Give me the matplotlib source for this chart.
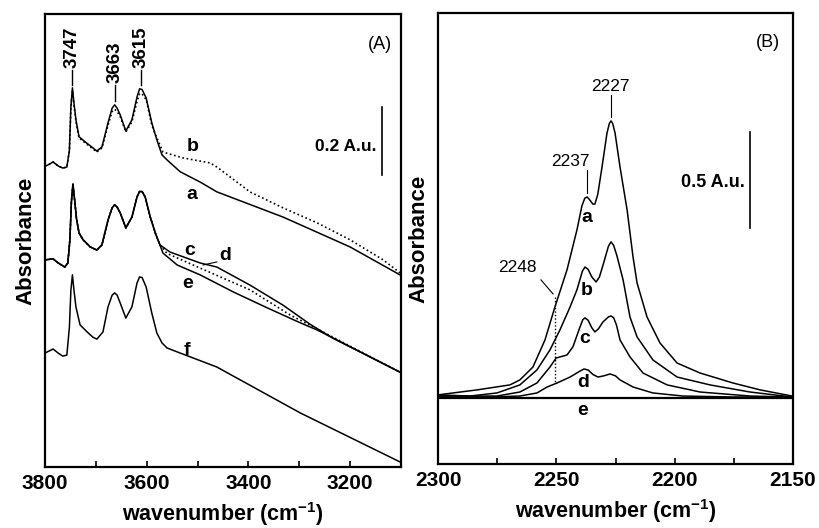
import numpy as np
import matplotlib
matplotlib.use("agg")
from matplotlib import pyplot as plt
from matplotlib.ticker import MultipleLocator

plt.rcParams['font.family'] = ['Liberation Sans', 'DejaVu Sans']
plt.rcParams['mathtext.fontset'] = 'custom'
plt.rcParams['mathtext.rm'] = 'Liberation Sans:bold'
plt.rcParams['mathtext.bf'] = 'Liberation Sans:bold'
plt.rcParams['mathtext.default'] = 'bf'

# ---- panel A: OH region (wavenumber, absorbance)
wn_a = [3800, 3794, 3784, 3774, 3765, 3757, 3752, 3749, 3746, 3743, 3739, 3733, 3721,
        3708, 3698, 3688, 3676, 3668, 3663, 3658, 3652, 3641, 3629, 3619, 3614, 3609,
        3601, 3590, 3580, 3570, 3560, 3534, 3495, 3462, 3332, 3200, 3102]
abs_a = [0.885, 0.888, 0.897, 0.885, 0.879, 0.882, 0.930, 1.060, 1.115, 1.070, 1.020,
         0.971, 0.956, 0.941, 0.929, 0.941, 1.012, 1.055, 1.065, 1.055, 1.035, 0.988,
         1.021, 1.088, 1.112, 1.110, 1.085, 1.012, 0.962, 0.918, 0.903, 0.868, 0.838,
         0.809, 0.735, 0.647, 0.565]

wn_b = [3800, 3794, 3784, 3774, 3765, 3757, 3752, 3749, 3746, 3743, 3739, 3733, 3721,
        3708, 3698, 3688, 3676, 3668, 3663, 3658, 3652, 3641, 3629, 3619, 3614, 3609,
        3601, 3590, 3584, 3568, 3529, 3475, 3462, 3436, 3397, 3332, 3265, 3200, 3135,
        3102]
abs_b = [0.885, 0.888, 0.897, 0.885, 0.879, 0.882, 0.930, 1.055, 1.108, 1.065, 1.015,
         0.968, 0.953, 0.938, 0.926, 0.938, 1.005, 1.045, 1.052, 1.045, 1.030, 0.985,
         1.015, 1.075, 1.098, 1.097, 1.080, 1.006, 0.982, 0.926, 0.909, 0.894, 0.882,
         0.853, 0.809, 0.762, 0.718, 0.668, 0.609, 0.571]

# shared OH band shape of c, d, e
wn_cde_peak = [3800, 3784, 3774, 3761, 3755, 3751, 3748, 3745, 3742, 3738, 3733, 3725,
               3711, 3698, 3688, 3676, 3668, 3663, 3658, 3652, 3641, 3629, 3619, 3614,
               3609, 3603, 3593, 3583, 3574]
abs_cde_peak = [0.609, 0.612, 0.600, 0.588, 0.600, 0.668, 0.780, 0.832, 0.790, 0.730,
                0.688, 0.668, 0.647, 0.638, 0.653, 0.726, 0.762, 0.771, 0.764, 0.747,
                0.703, 0.735, 0.794, 0.810, 0.810, 0.794, 0.735, 0.688, 0.653]
wn_c_tail = [3554, 3495, 3462, 3397, 3332, 3279, 3234, 3102]
abs_c_tail = [0.632, 0.600, 0.588, 0.535, 0.476, 0.420, 0.379, 0.279]
wn_d_tail = [3560, 3495, 3397, 3318, 3234, 3102]
abs_d_tail = [0.628, 0.585, 0.521, 0.447, 0.382, 0.279]
wn_e_tail = [3568, 3540, 3495, 3430, 3363, 3298, 3265, 3102]
abs_e_tail = [0.629, 0.594, 0.565, 0.515, 0.468, 0.424, 0.403, 0.279]

wn_f = [3800, 3784, 3774, 3765, 3757, 3752, 3749, 3746, 3743, 3739, 3731, 3717, 3706,
        3698, 3686, 3676, 3668, 3663, 3658, 3652, 3641, 3629, 3619, 3614, 3609, 3601,
        3590, 3580, 3570, 3560, 3534, 3462, 3298, 3102]
abs_f = [0.335, 0.347, 0.335, 0.326, 0.329, 0.410, 0.520, 0.565, 0.520, 0.470, 0.418,
         0.397, 0.382, 0.376, 0.397, 0.471, 0.505, 0.512, 0.505, 0.482, 0.438, 0.471,
         0.541, 0.559, 0.557, 0.529, 0.453, 0.394, 0.365, 0.350, 0.335, 0.294, 0.159,
         0.015]

oh_peaks = [3747, 3663, 3615]
oh_peak_pos = [3746, 3663, 3611]

# ---- panel B: CN region
wn_Ba = [2300, 2283.5, 2269.6, 2265.4, 2259.9, 2254.8, 2250.6, 2245.5, 2241.3, 2239.2,
         2238.0, 2237.0, 2235.8, 2234.6, 2233.7, 2232.5, 2230.7, 2228.6, 2227.6, 2226.9,
         2226.2, 2225.2, 2223.1, 2220.1, 2217.6, 2215.9, 2211.7, 2206.2, 2199.0, 2189.3,
         2175.4, 2163.9, 2150.4]
abs_Ba = [0.016, 0.042, 0.068, 0.094, 0.161, 0.302, 0.474, 0.667, 0.875, 1.000, 1.040,
          1.047, 1.030, 1.010, 1.010, 1.060, 1.203, 1.380, 1.430, 1.443, 1.430, 1.380,
          1.203, 0.979, 0.734, 0.599, 0.422, 0.286, 0.182, 0.130, 0.078, 0.042, 0.010]
wn_Bb = [2300, 2286.5, 2275.1, 2265.4, 2258.2, 2252.7, 2248.5, 2244.2, 2241.3, 2239.0,
         2237.9, 2236.6, 2235.0, 2233.2, 2231.8, 2229.9, 2228.0, 2226.9, 2225.8, 2224.4,
         2221.8, 2218.9, 2215.9, 2209.2, 2199.0, 2185.1, 2168.2, 2150.4]
abs_Bb = [0.016, 0.010, 0.026, 0.068, 0.146, 0.250, 0.354, 0.474, 0.563, 0.660, 0.682,
          0.670, 0.630, 0.604, 0.630, 0.708, 0.790, 0.813, 0.795, 0.740, 0.615, 0.422,
          0.318, 0.198, 0.109, 0.068, 0.031, 0.005]
wn_Bc = [2300, 2275.1, 2265.4, 2258.2, 2252.7, 2250.1, 2245.5, 2243.0, 2240.0, 2238.8,
         2237.9, 2236.6, 2235.0, 2233.7, 2232.2, 2230.3, 2228.0, 2226.9, 2225.8, 2224.6,
         2223.1, 2218.9, 2213.4, 2203.2, 2189.3, 2168.2, 2150.4]
abs_Bc = [0.010, 0.010, 0.031, 0.078, 0.161, 0.208, 0.224, 0.266, 0.370, 0.408, 0.417,
          0.405, 0.365, 0.344, 0.360, 0.396, 0.422, 0.427, 0.418, 0.380, 0.302, 0.214,
          0.130, 0.068, 0.031, 0.010, 0.005]
wn_Bd = [2300, 2278.0, 2265.4, 2258.2, 2253.9, 2249.7, 2244.2, 2240.0, 2238.3, 2236.5,
         2234.5, 2232.4, 2230.0, 2227.3, 2225.0, 2223.1, 2217.6, 2209.2, 2196.5, 2175.4,
         2150.4]
abs_Bd = [0.005, 0.005, 0.010, 0.026, 0.057, 0.078, 0.109, 0.140, 0.151, 0.145, 0.122,
          0.109, 0.115, 0.125, 0.115, 0.094, 0.057, 0.026, 0.010, 0.005, 0.005]
wn_Be = [2300, 2150]
abs_Be = [0.0, 0.0]


def style_axis(ax):
    for s in ax.spines.values():
        s.set_linewidth(1.6)
    ax.set_yticks([])
    ax.tick_params(axis='x', direction='in', length=4, width=1.2, top=False,
                   labelsize=15, pad=5)
    ax.tick_params(axis='x', which='minor', direction='in', length=4, width=1.2, top=False)
    for lab in ax.get_xticklabels():
        lab.set_fontweight('bold')
    ax.set_xlabel(r'wavenumber (cm$^{-1}$)', fontsize=15.5, fontweight='bold', labelpad=5.5)
    ax.set_ylabel('Absorbance', fontsize=16, fontweight='bold', labelpad=6)


fig = plt.figure(figsize=(8.19, 5.28), dpi=100)
axA = fig.add_axes([0.0549, 0.1155, 0.4347, 0.858])
axB = fig.add_axes([0.5348, 0.1212, 0.4335, 0.8542])

lw = 1.1
dot = (0, (1, 1.6))
axA.plot(wn_a, abs_a, color='black', lw=lw)
axA.plot(wn_b, abs_b, color='black', lw=1.2, ls=dot)
axA.plot(wn_cde_peak + wn_c_tail, abs_cde_peak + abs_c_tail, color='black', lw=lw)
axA.plot(wn_cde_peak + wn_d_tail, abs_cde_peak + abs_d_tail, color='black', lw=1.2, ls=dot)
axA.plot(wn_cde_peak + wn_e_tail, abs_cde_peak + abs_e_tail, color='black', lw=lw)
axA.plot(wn_f, abs_f, color='black', lw=lw)
axA.set_xlim(3800, 3100)
axA.set_ylim(0, 1.332)
axA.xaxis.set_major_locator(MultipleLocator(200))
axA.xaxis.set_minor_locator(MultipleLocator(100))
style_axis(axA)

text_bottom = [1.174, 1.129, 1.174]
for lab, pos, yb in zip(oh_peaks, oh_peak_pos, text_bottom):
    axA.text(pos, yb, str(lab), rotation=90, ha='center', va='bottom',
             fontsize=13.5, fontweight='bold')
    axA.plot([pos, pos], [yb - 0.006, yb - 0.052], color='black', lw=1.0)

for s, x, y in [('b', 3509, 0.941), ('a', 3511, 0.800), ('c', 3515, 0.638),
                ('d', 3446, 0.621), ('e', 3519, 0.541), ('f', 3521, 0.344)]:
    axA.text(x, y, s, ha='center', va='center', fontsize=14, fontweight='bold')
axA.plot([3489, 3462], [0.594, 0.603], color='black', lw=0.8)
axA.text(3141, 1.241, '(A)', ha='center', va='center', fontsize=13)
axA.text(3149, 0.941, '0.2 A.u.', ha='right', va='center', fontsize=12.5, fontweight='bold')
axA.plot([3137, 3137], [0.859, 1.059], color='black', lw=1.2)

axB.plot(wn_Ba, abs_Ba, color='black', lw=lw)
axB.plot(wn_Bb, abs_Bb, color='black', lw=lw)
axB.plot(wn_Bc, abs_Bc, color='black', lw=lw)
axB.plot(wn_Bd, abs_Bd, color='black', lw=lw)
axB.plot(wn_Be, abs_Be, color='black', lw=1.6)
axB.set_xlim(2300, 2150)
axB.set_ylim(-0.344, 2.005)
axB.xaxis.set_major_locator(MultipleLocator(50))
axB.xaxis.set_minor_locator(MultipleLocator(25))
style_axis(axB)

for s, x, y in [('a', 2237.0, 0.94), ('b', 2237.0, 0.56), ('c', 2237.9, 0.31),
                ('d', 2238.7, 0.08), ('e', 2238.7, -0.065)]:
    axB.text(x, y, s, ha='center', va='center', fontsize=14, fontweight='bold')
axB.text(2160.6, 1.849, '(B)', ha='center', va='center', fontsize=13)
axB.text(2227.3, 1.62, '2227', ha='center', va='center', fontsize=12.5)
axB.plot([2226.9, 2226.9], [1.578, 1.464], color='black', lw=0.8)
axB.text(2244.2, 1.229, '2237', ha='center', va='center', fontsize=12.5)
axB.plot([2237.0, 2237.0], [1.1875, 1.068], color='black', lw=0.8)
axB.text(2266.6, 0.677, '2248', ha='center', va='center', fontsize=12.5)
axB.plot([2256.5, 2251.4], [0.615, 0.542], color='black', lw=0.8)
axB.plot([2250.6, 2250.6], [0.526, 0.078], color='black', lw=1.0, ls=(0, (1, 1.5)))
axB.text(2170.3, 1.12, '0.5 A.u.', ha='right', va='center', fontsize=13, fontweight='bold')
axB.plot([2168.2, 2168.2], [0.885, 1.385], color='black', lw=1.2)

fig.savefig('out.png', dpi=100)
